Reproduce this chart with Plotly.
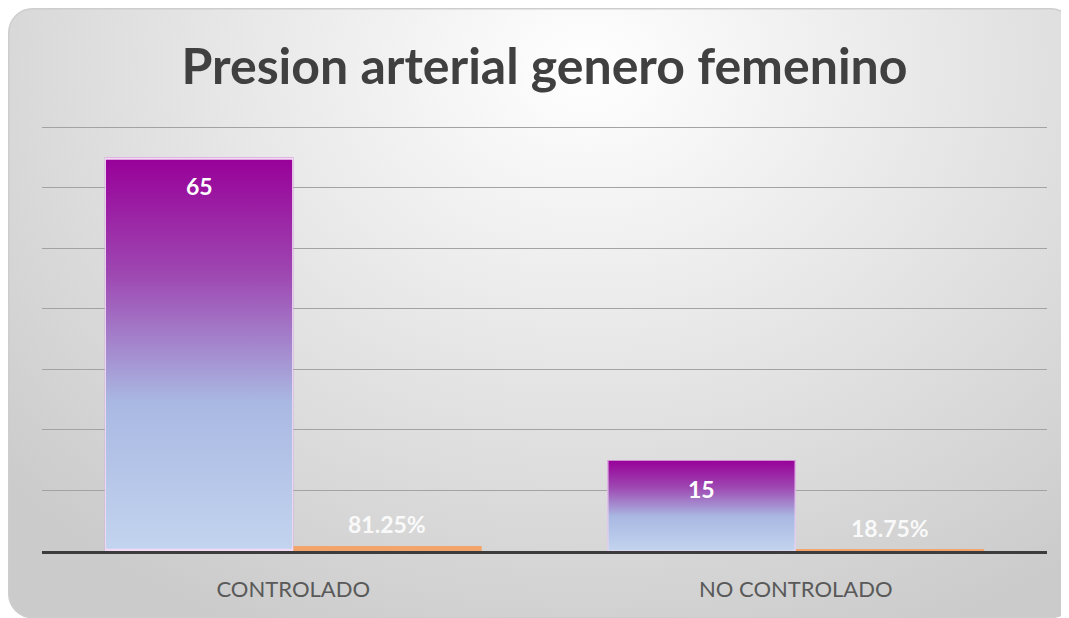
import base64
import plotly.graph_objects as go

categorias = ["CONTROLADO", "NO CONTROLADO"]
pacientes = [65, 15]
porcentaje = [0.8125, 0.1875]

W, H = 1069, 618
ML, MR, MT, MB = 34, 30, 116, 75
PW, PH = W - ML - MR, H - MT - MB
BARGAP = 0.25
ANCHO = (1 - BARGAP) / 2


def svg_uri(svg):
    return "data:image/svg+xml;base64," + base64.b64encode(svg.encode()).decode()


fondo = svg_uri(
    f'<svg xmlns="http://www.w3.org/2000/svg" width="{W}" height="{H}" viewBox="0 0 {W} {H}" preserveAspectRatio="none">'
    '<defs><radialGradient id="g" gradientUnits="userSpaceOnUse" cx="580" cy="60" r="780" '
    'gradientTransform="translate(580 60) scale(1 0.8) translate(-580 -60)">'
    '<stop offset="0" stop-color="#ffffff"/><stop offset="0.5" stop-color="#e5e5e5"/>'
    '<stop offset="1" stop-color="#cbcbcb"/></radialGradient></defs>'
    '<rect width="100%" height="100%" fill="#ffffff"/>'
    '<rect x="0.75" y="0.75" width="1066" height="609" rx="24" fill="url(#g)" stroke="#cdcdcd" stroke-width="1.5"/>'
    '</svg>'
)

barra = svg_uri(
    '<svg xmlns="http://www.w3.org/2000/svg" width="100" height="100" viewBox="0 0 100 100" preserveAspectRatio="none">'
    '<defs><linearGradient id="b" x1="0" y1="0" x2="0" y2="1">'
    '<stop offset="0" stop-color="#980098"/><stop offset="0.3" stop-color="#9e48b2"/>'
    '<stop offset="0.62" stop-color="#a9b8e2"/><stop offset="1" stop-color="#c3d4ef"/>'
    '</linearGradient></defs>'
    '<rect x="0" y="0" width="100" height="100" fill="url(#b)" stroke="#f3d9f3" stroke-width="1.2" '
    'vector-effect="non-scaling-stroke"/></svg>'
)

fig = go.Figure()
fig.add_trace(go.Bar(x=categorias, y=pacientes, marker=dict(color="#a070c0", line=dict(width=0)),
                     hoverinfo="skip"))
fig.add_trace(go.Bar(x=categorias, y=porcentaje, marker=dict(color="#f2a46a", line=dict(width=0)),
                     hoverinfo="skip"))

imagenes = [dict(source=fondo, xref="paper", yref="paper", x=-ML / PW, y=1 + MT / PH,
                 sizex=W / PW, sizey=H / PH, xanchor="left", yanchor="top",
                 sizing="stretch", layer="below")]
notas = []
for i, v in enumerate(pacientes):
    imagenes.append(dict(source=barra, xref="x", yref="y", x=i - ANCHO, y=v, sizex=ANCHO, sizey=v,
                         xanchor="left", yanchor="top", sizing="stretch", layer="above"))
    notas.append(dict(x=i - ANCHO / 2, y=v, xref="x", yref="y", text=str(v), showarrow=False,
                      yanchor="top", yshift=-13,
                      font=dict(family="Lato", size=23, color="white", weight="bold")))
for i, p in enumerate(porcentaje):
    notas.append(dict(x=i + ANCHO / 2, y=p, xref="x", yref="y", text=f"{p:.2%}", showarrow=False,
                      yanchor="bottom", yshift=6,
                      font=dict(family="Lato", size=23, color="rgba(255,255,255,0.9)", weight="bold")))

fig.update_layout(
    width=W, height=H,
    margin=dict(l=ML, r=MR, t=MT, b=MB),
    paper_bgcolor="white", plot_bgcolor="rgba(0,0,0,0)",
    barmode="group", bargap=BARGAP, bargroupgap=0,
    showlegend=False,
    images=imagenes,
    annotations=notas,
    title=dict(text="Presion arterial genero femenino", x=0.5, xref="paper",
               y=1 - 58 / H, yref="container", yanchor="middle",
               font=dict(family="Lato", size=50, color="#404040", weight="bold")),
    xaxis=dict(showline=True, linecolor="#3c3c3c", linewidth=3, ticks="",
               ticklabelstandoff=17,
               tickfont=dict(family="Lato", size=22, color="#595959")),
    yaxis=dict(range=[0, 70.5], dtick=10, showticklabels=False, showgrid=True,
               gridcolor="#a3a3a3", gridwidth=1.3, zeroline=False, showline=False),
)

fig.write_html("out.html")
